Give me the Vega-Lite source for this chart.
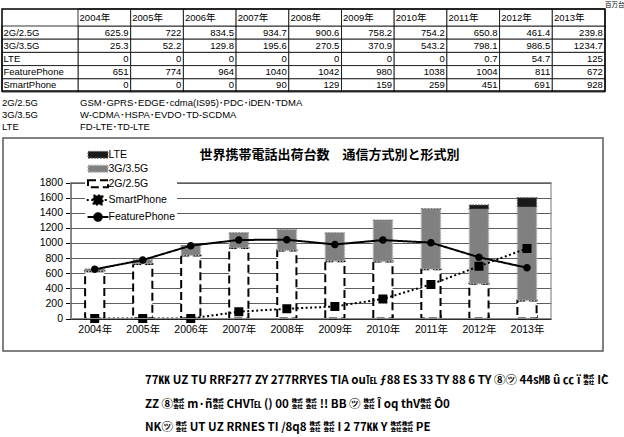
{
  "$schema": "https://vega.github.io/schema/vega-lite/v6.json",
  "width": 624,
  "height": 437,
  "autosize": {"type": "none"},
  "padding": 0,
  "background": "white",
  "config": {"view": {"stroke": null}},
  "datasets": {
    "shipments": [
      {"year": "2004年", "series": "2G/2.5G", "value": 625.9},
      {"year": "2005年", "series": "2G/2.5G", "value": 722},
      {"year": "2006年", "series": "2G/2.5G", "value": 834.5},
      {"year": "2007年", "series": "2G/2.5G", "value": 934.7},
      {"year": "2008年", "series": "2G/2.5G", "value": 900.6},
      {"year": "2009年", "series": "2G/2.5G", "value": 758.2},
      {"year": "2010年", "series": "2G/2.5G", "value": 754.2},
      {"year": "2011年", "series": "2G/2.5G", "value": 650.8},
      {"year": "2012年", "series": "2G/2.5G", "value": 461.4},
      {"year": "2013年", "series": "2G/2.5G", "value": 239.8},
      {"year": "2004年", "series": "3G/3.5G", "value": 25.3},
      {"year": "2005年", "series": "3G/3.5G", "value": 52.2},
      {"year": "2006年", "series": "3G/3.5G", "value": 129.8},
      {"year": "2007年", "series": "3G/3.5G", "value": 195.6},
      {"year": "2008年", "series": "3G/3.5G", "value": 270.5},
      {"year": "2009年", "series": "3G/3.5G", "value": 370.9},
      {"year": "2010年", "series": "3G/3.5G", "value": 543.2},
      {"year": "2011年", "series": "3G/3.5G", "value": 798.1},
      {"year": "2012年", "series": "3G/3.5G", "value": 986.5},
      {"year": "2013年", "series": "3G/3.5G", "value": 1234.7},
      {"year": "2004年", "series": "LTE", "value": 0},
      {"year": "2005年", "series": "LTE", "value": 0},
      {"year": "2006年", "series": "LTE", "value": 0},
      {"year": "2007年", "series": "LTE", "value": 0},
      {"year": "2008年", "series": "LTE", "value": 0},
      {"year": "2009年", "series": "LTE", "value": 0},
      {"year": "2010年", "series": "LTE", "value": 0},
      {"year": "2011年", "series": "LTE", "value": 0.7},
      {"year": "2012年", "series": "LTE", "value": 54.7},
      {"year": "2013年", "series": "LTE", "value": 125.0},
      {"year": "2004年", "series": "FeaturePhone", "value": 651},
      {"year": "2005年", "series": "FeaturePhone", "value": 774},
      {"year": "2006年", "series": "FeaturePhone", "value": 964},
      {"year": "2007年", "series": "FeaturePhone", "value": 1040},
      {"year": "2008年", "series": "FeaturePhone", "value": 1042},
      {"year": "2009年", "series": "FeaturePhone", "value": 980},
      {"year": "2010年", "series": "FeaturePhone", "value": 1038},
      {"year": "2011年", "series": "FeaturePhone", "value": 1004},
      {"year": "2012年", "series": "FeaturePhone", "value": 811},
      {"year": "2013年", "series": "FeaturePhone", "value": 672},
      {"year": "2004年", "series": "SmartPhone", "value": 0},
      {"year": "2005年", "series": "SmartPhone", "value": 0},
      {"year": "2006年", "series": "SmartPhone", "value": 0},
      {"year": "2007年", "series": "SmartPhone", "value": 90},
      {"year": "2008年", "series": "SmartPhone", "value": 129},
      {"year": "2009年", "series": "SmartPhone", "value": 159},
      {"year": "2010年", "series": "SmartPhone", "value": 259},
      {"year": "2011年", "series": "SmartPhone", "value": 451},
      {"year": "2012年", "series": "SmartPhone", "value": 691},
      {"year": "2013年", "series": "SmartPhone", "value": 928}
    ],
    "notes": [
      {"tech": "2G/2.5G", "standards": "GSM･GPRS･EDGE･cdma(IS95)･PDC･iDEN･TDMA"},
      {"tech": "3G/3.5G", "standards": "W-CDMA･HSPA･EVDO･TD-SCDMA"},
      {"tech": "LTE", "standards": "FD-LTE･TD-LTE"}
    ],
    "unit": [{"unit": "百万台"}],
    "heading": [{"title": "世界携帯電話出荷台数　通信方式別と形式別"}],
    "frame": [{"part": "frame"}],
    "garbled": [
      {"line": 1, "text": "77㏍  UZ TU RRF277 ZY 277RRYES TIA ou℡ ƒ88 ES 33 TY 88 6 TY ⑧㋡ 44s㎆ û ㏄ ï ㍿ İC"},
      {"line": 2, "text": "　 ZZ ⑧㍿ m·ñ㍿ CHV℡ () 00 ㍿ ㍿ !! BB ㋡ ㍿ Î oq thV㍿ Ô0"},
      {"line": 3, "text": "NK㋡ ㍿ UT UZ RRNES TI /8q8 ㍿ ㍿ I 2 77㏍ Y ㍿㍿ PE"}
    ]
  },
  "resolve": {"scale": {"x": "independent", "y": "independent"}},
  "layer": [
    {
      "data": {"name": "shipments"},
      "mark": {"type": "rect", "fill": "white", "stroke": "black", "strokeWidth": 0.8},
      "encoding": {
        "x": {"field": "year", "type": "nominal", "scale": {"type": "band", "range": [78, 605], "paddingInner": 0, "paddingOuter": 0}, "axis": null},
        "y": {"field": "series", "type": "nominal", "scale": {"type": "band", "domain": ["2G/2.5G", "3G/3.5G", "LTE", "FeaturePhone", "SmartPhone"], "range": [26, 92], "paddingInner": 0, "paddingOuter": 0}, "axis": null}
      }
    },
    {
      "data": {"name": "shipments"},
      "mark": {"type": "text", "align": "right", "baseline": "middle", "font": "Liberation Sans Narrow, Liberation Sans", "fontSize": 9.5, "fill": "black"},
      "encoding": {
        "x": {"field": "year", "type": "nominal", "bandPosition": 0.96, "scale": {"type": "band", "range": [78, 605], "paddingInner": 0, "paddingOuter": 0}, "axis": null},
        "y": {"field": "series", "type": "nominal", "scale": {"type": "band", "domain": ["2G/2.5G", "3G/3.5G", "LTE", "FeaturePhone", "SmartPhone"], "range": [26, 92], "paddingInner": 0, "paddingOuter": 0}, "axis": null},
        "text": {"field": "value", "type": "nominal"}
      }
    },
    {
      "data": {"name": "shipments"},
      "transform": [{"filter": {"field": "year", "equal": "2004年"}}],
      "mark": {"type": "rect", "fill": "white", "stroke": "black", "strokeWidth": 0.8},
      "encoding": {
        "x": {"datum": "row", "type": "nominal", "scale": {"type": "band", "domain": ["row"], "range": [2, 78], "paddingInner": 0, "paddingOuter": 0}, "axis": null},
        "y": {"field": "series", "type": "nominal", "scale": {"type": "band", "domain": ["2G/2.5G", "3G/3.5G", "LTE", "FeaturePhone", "SmartPhone"], "range": [26, 92], "paddingInner": 0, "paddingOuter": 0}, "axis": null}
      }
    },
    {
      "data": {"name": "shipments"},
      "transform": [{"filter": {"field": "year", "equal": "2004年"}}],
      "mark": {"type": "text", "align": "left", "baseline": "middle", "font": "Liberation Sans Narrow, Liberation Sans", "fontSize": 9.5, "fill": "black"},
      "encoding": {
        "x": {"datum": 0, "type": "quantitative", "scale": {"domain": [0, 1], "range": [3.5, 600]}, "axis": null},
        "y": {"field": "series", "type": "nominal", "scale": {"type": "band", "domain": ["2G/2.5G", "3G/3.5G", "LTE", "FeaturePhone", "SmartPhone"], "range": [26, 92], "paddingInner": 0, "paddingOuter": 0}, "axis": null},
        "text": {"field": "series", "type": "nominal"}
      }
    },
    {
      "data": {"name": "shipments"},
      "transform": [{"filter": {"field": "series", "equal": "2G/2.5G"}}],
      "mark": {"type": "rect", "fill": "white", "stroke": "black", "strokeWidth": 0.8},
      "encoding": {
        "x": {"field": "year", "type": "nominal", "scale": {"type": "band", "range": [78, 605], "paddingInner": 0, "paddingOuter": 0}, "axis": null},
        "y": {"datum": "hdr", "type": "nominal", "scale": {"type": "band", "domain": ["hdr"], "range": [9, 26], "paddingInner": 0, "paddingOuter": 0}, "axis": null}
      }
    },
    {
      "data": {"name": "shipments"},
      "transform": [{"filter": {"field": "series", "equal": "2G/2.5G"}}],
      "mark": {"type": "text", "align": "left", "baseline": "middle", "font": "Liberation Sans Narrow, Liberation Sans, Noto Sans CJK JP", "fontSize": 9.5, "fill": "black"},
      "encoding": {
        "x": {"field": "year", "type": "nominal", "bandPosition": 0.03, "scale": {"type": "band", "range": [78, 605], "paddingInner": 0, "paddingOuter": 0}, "axis": null},
        "y": {"datum": 0, "type": "quantitative", "scale": {"domain": [0, 1], "range": [17.5, 30]}, "axis": null},
        "text": {"field": "year", "type": "nominal"}
      }
    },
    {
      "data": {"name": "frame"},
      "mark": {"type": "rect", "fill": "white", "fillOpacity": 0, "stroke": "black", "strokeWidth": 1.5},
      "encoding": {
        "x": {"datum": 0, "type": "quantitative", "scale": {"domain": [0, 1], "range": [2, 605]}, "axis": null},
        "x2": {"datum": 1},
        "y": {"datum": 0, "type": "quantitative", "scale": {"domain": [0, 1], "range": [9, 91]}, "axis": null},
        "y2": {"datum": 1}
      }
    },
    {
      "data": {"name": "unit"},
      "mark": {"type": "text", "align": "left", "baseline": "middle", "font": "Noto Sans CJK JP", "fontSize": 6.5, "fill": "black"},
      "encoding": {
        "x": {"datum": 0, "type": "quantitative", "scale": {"domain": [0, 1], "range": [605, 700]}, "axis": null},
        "y": {"datum": 0, "type": "quantitative", "scale": {"domain": [0, 1], "range": [5, 20]}, "axis": null},
        "text": {"field": "unit", "type": "nominal"}
      }
    },
    {
      "data": {"name": "notes"},
      "mark": {"type": "text", "align": "left", "baseline": "middle", "font": "Liberation Sans Narrow, Liberation Sans", "fontSize": 9.5, "fill": "black"},
      "encoding": {
        "x": {"datum": 0, "type": "quantitative", "scale": {"domain": [0, 1], "range": [2, 600]}, "axis": null},
        "y": {"field": "tech", "type": "nominal", "scale": {"type": "point", "domain": ["2G/2.5G", "3G/3.5G", "LTE"], "range": [102.5, 126.5], "padding": 0}, "axis": null},
        "text": {"field": "tech", "type": "nominal"}
      }
    },
    {
      "data": {"name": "notes"},
      "mark": {"type": "text", "align": "left", "baseline": "middle", "font": "Liberation Sans Narrow, Liberation Sans, Noto Sans CJK JP", "fontSize": 9.5, "fill": "black"},
      "encoding": {
        "x": {"datum": 0, "type": "quantitative", "scale": {"domain": [0, 1], "range": [80, 600]}, "axis": null},
        "y": {"field": "tech", "type": "nominal", "scale": {"type": "point", "domain": ["2G/2.5G", "3G/3.5G", "LTE"], "range": [102.5, 126.5], "padding": 0}, "axis": null},
        "text": {"field": "standards", "type": "nominal"}
      }
    },
    {
      "data": {"name": "frame"},
      "mark": {"type": "rect", "fill": "white", "fillOpacity": 0, "stroke": "#5a5a5a", "strokeWidth": 1.5},
      "encoding": {
        "x": {"datum": 0, "type": "quantitative", "scale": {"domain": [0, 1], "range": [3, 603]}, "axis": null},
        "x2": {"datum": 1},
        "y": {"datum": 0, "type": "quantitative", "scale": {"domain": [0, 1], "range": [138, 351]}, "axis": null},
        "y2": {"datum": 1}
      }
    },
    {
      "data": {"name": "heading"},
      "mark": {"type": "text", "align": "center", "baseline": "middle", "font": "Noto Sans CJK JP", "fontSize": 13, "fontWeight": "bold", "fill": "black"},
      "encoding": {
        "x": {"datum": 0, "type": "quantitative", "scale": {"domain": [0, 1], "range": [329.5, 600]}, "axis": null},
        "y": {"datum": 0, "type": "quantitative", "scale": {"domain": [0, 1], "range": [155, 200]}, "axis": null},
        "text": {"field": "title", "type": "nominal"}
      }
    },
    {
      "data": {"name": "shipments"},
      "encoding": {
        "x": {
          "field": "year", "type": "ordinal",
          "scale": {"type": "band", "range": [70.7, 551], "paddingInner": 0.6, "paddingOuter": 0.3},
          "axis": {"orient": "bottom", "offset": -118.5, "title": null, "labelAngle": 0, "labelFont": "Liberation Sans, Noto Sans CJK JP", "labelFontSize": 10.5, "labelColor": "black", "domainColor": "black", "domainWidth": 1, "tickBand": "extent", "tickSize": -4, "tickColor": "#555", "labelPadding": 10, "grid": false}
        }
      },
      "layer": [
        {
          "transform": [{"filter": {"field": "series", "oneOf": ["2G/2.5G", "3G/3.5G", "LTE"]}}],
          "mark": {"type": "bar"},
          "encoding": {
            "y": {
              "aggregate": "sum", "field": "value", "type": "quantitative", "stack": "zero",
              "scale": {"domain": [0, 1800], "range": [318.5, 182.5], "nice": false},
              "axis": {"orient": "left", "offset": -70.5, "title": null, "format": "d", "values": [0, 200, 400, 600, 800, 1000, 1200, 1400, 1600, 1800], "grid": true, "gridColor": "#5e5e5e", "gridWidth": 1, "tickSize": 5, "tickColor": "black", "domainColor": "black", "labelFont": "Liberation Sans", "labelFontSize": 10.5, "labelColor": "black", "labelPadding": 3}
            },
            "order": {"field": "series", "type": "nominal", "sort": "ascending"},
            "fill": {
              "field": "series", "type": "nominal",
              "scale": {"domain": ["LTE", "3G/3.5G", "2G/2.5G", "SmartPhone", "FeaturePhone"], "range": ["#1a1a1a", "#808080", "#ffffff", "#000000", "#000000"]},
              "legend": {
                "orient": "none", "legendX": 85, "legendY": 148, "title": null,
                "padding": 1.5, "symbolOffset": 6, "labelOffset": 5, "rowPadding": 0, "symbolSize": 64,
                "labelFont": "Liberation Sans", "labelFontSize": 10.5, "labelColor": "black",
                "fillColor": "white"
              }
            },
            "stroke": {"field": "series", "type": "nominal", "scale": {"domain": ["LTE", "3G/3.5G", "2G/2.5G", "SmartPhone", "FeaturePhone"], "range": ["#6b6b6b", "#b3b3b3", "#000000", "#000000", "#000000"]}},
            "strokeDash": {"field": "series", "type": "nominal", "scale": {"domain": ["LTE", "3G/3.5G", "2G/2.5G", "SmartPhone", "FeaturePhone"], "range": [[1.5, 1.5], [1.5, 1.5], [8, 4], [2, 2.5], [1, 0]]}},
            "strokeWidth": {"field": "series", "type": "nominal", "scale": {"type": "ordinal", "domain": ["LTE", "3G/3.5G", "2G/2.5G", "SmartPhone", "FeaturePhone"], "range": [1.2, 1.5, 2, 2, 2]}}
          }
        },
        {
          "transform": [{"filter": {"field": "series", "oneOf": ["SmartPhone", "FeaturePhone"]}}],
          "mark": {"type": "line"},
          "encoding": {
            "y": {"field": "value", "type": "quantitative", "scale": {"domain": [0, 1800], "range": [318.5, 182.5], "nice": false}},
            "stroke": {"field": "series", "type": "nominal", "scale": {"domain": ["LTE", "3G/3.5G", "2G/2.5G", "SmartPhone", "FeaturePhone"], "range": ["#6b6b6b", "#b3b3b3", "#000000", "#000000", "#000000"]}},
            "strokeDash": {"field": "series", "type": "nominal", "scale": {"domain": ["LTE", "3G/3.5G", "2G/2.5G", "SmartPhone", "FeaturePhone"], "range": [[1.5, 1.5], [1.5, 1.5], [8, 4], [2, 2.5], [1, 0]]}},
            "strokeWidth": {"field": "series", "type": "nominal", "scale": {"type": "ordinal", "domain": ["LTE", "3G/3.5G", "2G/2.5G", "SmartPhone", "FeaturePhone"], "range": [1.2, 1.5, 2, 2, 2]}}
          }
        },
        {
          "transform": [{"filter": {"field": "series", "oneOf": ["SmartPhone", "FeaturePhone"]}}],
          "mark": {"type": "point", "filled": true, "opacity": 1},
          "encoding": {
            "y": {"field": "value", "type": "quantitative", "scale": {"domain": [0, 1800], "range": [318.5, 182.5], "nice": false}},
            "fill": {"field": "series", "type": "nominal", "scale": {"domain": ["LTE", "3G/3.5G", "2G/2.5G", "SmartPhone", "FeaturePhone"], "range": ["#1a1a1a", "#808080", "#ffffff", "#000000", "#000000"]}},
            "shape": {"field": "series", "type": "nominal", "scale": {"domain": ["LTE", "3G/3.5G", "2G/2.5G", "SmartPhone", "FeaturePhone"], "range": ["M-2.5,-0.85H2.5V0.85H-2.5Z", "M-2.5,-0.85H2.5V0.85H-2.5Z", "M-2.5,-0.85H2.5V0.85H-2.5Z", "M-2.5,0H2.5M-1,-1H1V1H-1Z", "M-2.5,0H2.5M0.9,0A0.9,0.9,0,1,1,-0.9,0A0.9,0.9,0,1,1,0.9,0Z"]}},
            "size": {"field": "series", "type": "nominal", "scale": {"type": "ordinal", "domain": ["LTE", "3G/3.5G", "2G/2.5G", "SmartPhone", "FeaturePhone"], "range": [64, 64, 64, 81, 70]}, "legend": null}
          }
        }
      ]
    },
    {
      "data": {"name": "frame"},
      "mark": {"type": "rect", "fill": "white", "fillOpacity": 0, "stroke": "#8c8c8c", "strokeWidth": 1.2},
      "encoding": {
        "x": {"datum": 0, "type": "quantitative", "scale": {"domain": [0, 1], "range": [70.7, 551]}, "axis": null},
        "x2": {"datum": 1},
        "y": {"datum": 0, "type": "quantitative", "scale": {"domain": [0, 1], "range": [182.5, 318.5]}, "axis": null},
        "y2": {"datum": 1}
      }
    },
    {
      "data": {"name": "garbled"},
      "mark": {"type": "text", "align": "left", "baseline": "middle", "font": "Liberation Sans Narrow, Noto Sans CJK JP", "fontSize": 11.5, "fontWeight": "bold", "fill": "black"},
      "encoding": {
        "x": {"datum": 0, "type": "quantitative", "scale": {"domain": [0, 1], "range": [145, 600]}, "axis": null},
        "y": {"field": "line", "type": "ordinal", "scale": {"type": "point", "domain": [1, 2, 3], "range": [381, 428], "padding": 0}, "axis": null},
        "text": {"field": "text", "type": "nominal"}
      }
    }
  ]
}
